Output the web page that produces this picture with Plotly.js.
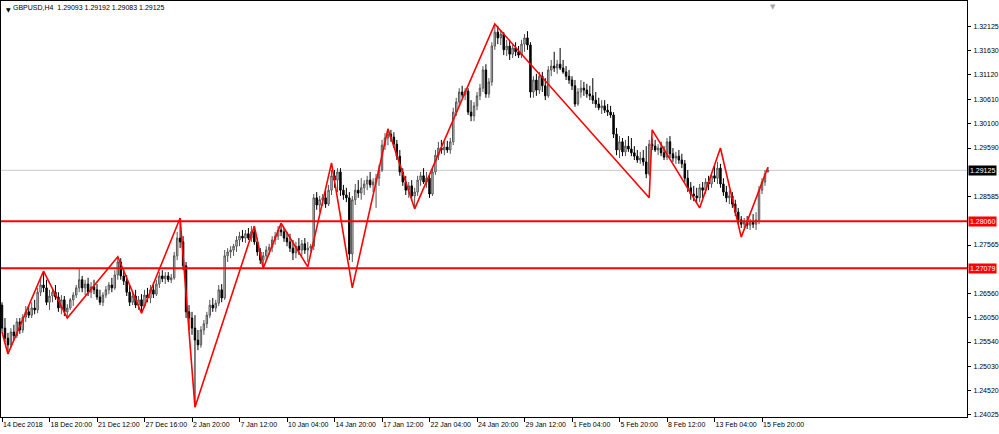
<!DOCTYPE html>
<html><head><meta charset="utf-8">
<script src="https://cdn.plot.ly/plotly-3.0.1.min.js"></script>
<style>html,body{margin:0;padding:0;background:#fff;overflow:hidden}#chart{width:999px;height:434px}</style>
</head><body><div id="chart"></div>
<script>
// GBPUSD H4 candles, 14 Dec 2018 04:00 .. 18 Feb 2019 04:00
const openP = [
1.2631,1.2583,1.2562,1.2548,1.2575,1.2567,1.2596,1.2579,1.2606,1.2617,
1.2610,1.2625,1.2621,1.2658,1.2673,1.2667,1.2637,1.2650,1.2658,1.2648,
1.2625,1.2642,1.2617,1.2625,1.2642,1.2652,1.2667,1.2684,1.2667,1.2675,
1.2658,1.2669,1.2663,1.2648,1.2637,1.2652,1.2663,1.2673,1.2667,1.2694,
1.2721,1.2692,1.2681,1.2658,1.2637,1.2650,1.2631,1.2642,1.2629,1.2652,
1.2646,1.2663,1.2654,1.2675,1.2692,1.2686,1.2692,1.2684,1.2688,1.2734,
1.2771,1.2763,1.2713,1.2617,1.2604,1.2583,1.2558,1.2548,1.2579,1.2592,
1.2610,1.2631,1.2625,1.2635,1.2663,1.2646,1.2734,1.2742,1.2746,1.2754,
1.2767,1.2775,1.2771,1.2780,1.2771,1.2784,1.2763,1.2742,1.2725,1.2734,
1.2746,1.2752,1.2767,1.2775,1.2788,1.2784,1.2771,1.2763,1.2750,1.2740,
1.2754,1.2746,1.2759,1.2746,1.2750,1.2754,1.2855,1.2840,1.2851,1.2855,
1.2842,1.2871,1.2901,1.2892,1.2909,1.2871,1.2861,1.2855,1.2738,1.2851,
1.2871,1.2865,1.2876,1.2884,1.2892,1.2882,1.2888,1.2896,1.2913,1.2965,
1.2980,1.2988,1.2982,1.2967,1.2942,1.2909,1.2888,1.2871,1.2880,1.2859,
1.2867,1.2892,1.2901,1.2888,1.2896,1.2863,1.2909,1.2944,1.2959,1.2955,
1.2961,1.2955,1.2972,1.3034,1.3055,1.3076,1.3070,1.3078,1.3034,1.3026,
1.3047,1.3068,1.3084,1.3122,1.3072,1.3097,1.3172,1.3201,1.3189,1.3197,
1.3164,1.3172,1.3155,1.3168,1.3160,1.3153,1.3176,1.3189,1.3174,1.3076,
1.3101,1.3080,1.3109,1.3089,1.3068,1.3122,1.3130,1.3126,1.3134,1.3126,
1.3118,1.3109,1.3101,1.3089,1.3051,1.3076,1.3084,1.3080,1.3072,1.3068,
1.3059,1.3051,1.3043,1.3047,1.3038,1.3034,1.3028,1.2988,1.2955,1.2972,
1.2951,1.2963,1.2957,1.2949,1.2942,1.2934,1.2938,1.2930,1.2905,1.2967,
1.2963,1.2955,1.2959,1.2949,1.2940,1.2972,1.2947,1.2938,1.2942,1.2934,
1.2926,1.2896,1.2876,1.2863,1.2859,1.2855,1.2876,1.2871,1.2888,1.2884,
1.2901,1.2896,1.2917,1.2884,1.2867,1.2855,1.2859,1.2842,1.2825,1.2809,
1.2800,1.2804,1.2798,1.2804,1.2800,1.2809,1.2871,1.2888,1.29093];
const highP = [
1.2637,1.2604,1.2573,1.2583,1.2590,1.2604,1.2604,1.2612,1.2629,1.2631,
1.2637,1.2642,1.2667,1.2688,1.2702,1.2684,1.2663,1.2667,1.2673,1.2658,
1.2652,1.2650,1.2633,1.2646,1.2658,1.2673,1.2708,1.2692,1.2684,1.2688,
1.2679,1.2684,1.2675,1.2663,1.2658,1.2671,1.2679,1.2688,1.2704,1.2732,
1.2729,1.2708,1.2694,1.2673,1.2658,1.2663,1.2650,1.2654,1.2663,1.2667,
1.2673,1.2679,1.2684,1.2700,1.2704,1.2700,1.2700,1.2696,1.2742,1.2784,
1.2813,1.2775,1.2721,1.2631,1.2617,1.2610,1.2579,1.2587,1.2600,1.2617,
1.2642,1.2646,1.2642,1.2673,1.2675,1.2746,1.2750,1.2754,1.2759,1.2775,
1.2784,1.2788,1.2788,1.2792,1.2796,1.2796,1.2771,1.2750,1.2742,1.2754,
1.2759,1.2775,1.2784,1.2796,1.2802,1.2792,1.2784,1.2780,1.2767,1.2763,
1.2771,1.2767,1.2771,1.2763,1.2759,1.2863,1.2867,1.2859,1.2863,1.2871,
1.2882,1.2913,1.2913,1.2917,1.2917,1.2882,1.2876,1.2867,1.2859,1.2884,
1.2892,1.2896,1.2892,1.2901,1.2909,1.2896,1.2905,1.2924,1.2976,1.2990,
1.2999,1.2997,1.2992,1.2976,1.2955,1.2917,1.2901,1.2888,1.2892,1.2876,
1.2901,1.2909,1.2917,1.2909,1.2905,1.2917,1.2955,1.2972,1.2976,1.2972,
1.2974,1.2980,1.3043,1.3064,1.3084,1.3089,1.3084,1.3084,1.3059,1.3055,
1.3076,1.3093,1.3130,1.3134,1.3105,1.3180,1.3218,1.3214,1.3206,1.3201,
1.3185,1.3185,1.3176,1.3180,1.3172,1.3185,1.3197,1.3203,1.3180,1.3109,
1.3114,1.3118,1.3118,1.3105,1.3130,1.3143,1.3160,1.3143,1.3168,1.3143,
1.3130,1.3122,1.3109,1.3101,1.3084,1.3101,1.3097,1.3093,1.3089,1.3105,
1.3076,1.3064,1.3059,1.3059,1.3051,1.3047,1.3034,1.3001,1.2984,1.2980,
1.2976,1.2984,1.2980,1.2963,1.2955,1.2951,1.2955,1.2963,1.2976,1.2980,
1.2976,1.2967,1.2972,1.2963,1.2980,1.2984,1.2959,1.2951,1.2955,1.2947,
1.2934,1.2913,1.2888,1.2880,1.2876,1.2884,1.2888,1.2896,1.2901,1.2909,
1.2922,1.2930,1.2926,1.2896,1.2880,1.2871,1.2867,1.2851,1.2834,1.2817,
1.2813,1.2817,1.2811,1.2821,1.2825,1.2880,1.2896,1.2913,1.29192];
const lowP = [
1.2575,1.2554,1.2529,1.2542,1.2558,1.2562,1.2571,1.2573,1.2596,1.2604,
1.2604,1.2612,1.2614,1.2650,1.2658,1.2631,1.2621,1.2637,1.2642,1.2617,
1.2612,1.2608,1.2604,1.2621,1.2629,1.2646,1.2658,1.2658,1.2652,1.2650,
1.2646,1.2654,1.2642,1.2631,1.2629,1.2646,1.2654,1.2658,1.2663,1.2684,
1.2684,1.2673,1.2650,1.2629,1.2631,1.2625,1.2621,1.2614,1.2625,1.2637,
1.2635,1.2646,1.2650,1.2667,1.2679,1.2675,1.2679,1.2677,1.2684,1.2725,
1.2750,1.2704,1.2604,1.2579,1.2569,1.2418,1.2537,1.2542,1.2569,1.2583,
1.2604,1.2617,1.2617,1.2629,1.2637,1.2642,1.2721,1.2729,1.2734,1.2742,
1.2754,1.2763,1.2761,1.2767,1.2763,1.2757,1.2734,1.2717,1.2708,1.2725,
1.2736,1.2742,1.2757,1.2767,1.2775,1.2763,1.2754,1.2742,1.2725,1.2729,
1.2736,1.2734,1.2738,1.2721,1.2742,1.2746,1.2830,1.2825,1.2838,1.2834,
1.2838,1.2861,1.2876,1.2867,1.2859,1.2851,1.2846,1.2725,1.2721,1.2840,
1.2855,1.2851,1.2861,1.2871,1.2876,1.2867,1.2834,1.2880,1.2909,1.2955,
1.2965,1.2972,1.2959,1.2934,1.2901,1.2880,1.2861,1.2855,1.2851,1.2832,
1.2859,1.2880,1.2884,1.2876,1.2855,1.2859,1.2903,1.2934,1.2947,1.2944,
1.2949,1.2947,1.2965,1.3026,1.3047,1.3064,1.3059,1.3028,1.3015,1.3015,
1.3038,1.3059,1.3076,1.3064,1.3064,1.3089,1.3164,1.3176,1.3174,1.3153,
1.3151,1.3143,1.3147,1.3151,1.3147,1.3147,1.3160,1.3164,1.3064,1.3064,
1.3068,1.3072,1.3076,1.3059,1.3064,1.3109,1.3118,1.3114,1.3122,1.3114,
1.3101,1.3093,1.3080,1.3045,1.3047,1.3064,1.3068,1.3064,1.3059,1.3051,
1.3043,1.3038,1.3030,1.3032,1.3026,1.3022,1.2980,1.2944,1.2938,1.2942,
1.2942,1.2951,1.2942,1.2934,1.2928,1.2926,1.2922,1.2896,1.2901,1.2955,
1.2951,1.2944,1.2942,1.2934,1.2934,1.2938,1.2930,1.2926,1.2926,1.2917,
1.2888,1.2867,1.2851,1.2848,1.2844,1.2846,1.2855,1.2863,1.2871,1.2876,
1.2888,1.2884,1.2876,1.2859,1.2846,1.2842,1.2834,1.2817,1.2800,1.2792,
1.2792,1.2790,1.2788,1.2792,1.2788,1.2800,1.2863,1.2880,1.29083];
const closeP = [
1.2583,1.2562,1.2548,1.2575,1.2567,1.2596,1.2579,1.2606,1.2617,1.2610,
1.2625,1.2621,1.2658,1.2673,1.2667,1.2637,1.2650,1.2658,1.2648,1.2625,
1.2642,1.2617,1.2625,1.2642,1.2652,1.2667,1.2684,1.2667,1.2675,1.2658,
1.2669,1.2663,1.2648,1.2637,1.2652,1.2663,1.2673,1.2667,1.2694,1.2721,
1.2692,1.2681,1.2658,1.2637,1.2650,1.2631,1.2642,1.2629,1.2652,1.2646,
1.2663,1.2654,1.2675,1.2692,1.2686,1.2692,1.2684,1.2688,1.2734,1.2771,
1.2763,1.2713,1.2617,1.2604,1.2583,1.2558,1.2548,1.2579,1.2592,1.2610,
1.2631,1.2625,1.2635,1.2663,1.2646,1.2734,1.2742,1.2746,1.2754,1.2767,
1.2775,1.2771,1.2780,1.2771,1.2784,1.2763,1.2742,1.2725,1.2734,1.2746,
1.2752,1.2767,1.2775,1.2788,1.2784,1.2771,1.2763,1.2750,1.2740,1.2754,
1.2746,1.2759,1.2746,1.2750,1.2754,1.2855,1.2840,1.2851,1.2855,1.2842,
1.2871,1.2901,1.2892,1.2909,1.2871,1.2861,1.2855,1.2738,1.2851,1.2871,
1.2865,1.2876,1.2884,1.2892,1.2882,1.2888,1.2896,1.2913,1.2965,1.2980,
1.2988,1.2982,1.2967,1.2942,1.2909,1.2888,1.2871,1.2880,1.2859,1.2867,
1.2892,1.2901,1.2888,1.2896,1.2863,1.2909,1.2944,1.2959,1.2955,1.2961,
1.2955,1.2972,1.3034,1.3055,1.3076,1.3070,1.3078,1.3034,1.3026,1.3047,
1.3068,1.3084,1.3122,1.3072,1.3097,1.3172,1.3201,1.3189,1.3197,1.3164,
1.3172,1.3155,1.3168,1.3160,1.3153,1.3176,1.3189,1.3174,1.3076,1.3101,
1.3080,1.3109,1.3089,1.3068,1.3122,1.3130,1.3126,1.3134,1.3126,1.3118,
1.3109,1.3101,1.3089,1.3051,1.3076,1.3084,1.3080,1.3072,1.3068,1.3059,
1.3051,1.3043,1.3047,1.3038,1.3034,1.3028,1.2988,1.2955,1.2972,1.2951,
1.2963,1.2957,1.2949,1.2942,1.2934,1.2938,1.2930,1.2905,1.2967,1.2963,
1.2955,1.2959,1.2949,1.2940,1.2972,1.2947,1.2938,1.2942,1.2934,1.2926,
1.2896,1.2876,1.2863,1.2859,1.2855,1.2876,1.2871,1.2888,1.2884,1.2901,
1.2896,1.2917,1.2884,1.2867,1.2855,1.2859,1.2842,1.2825,1.2809,1.2800,
1.2804,1.2798,1.2804,1.2800,1.2809,1.2871,1.2888,1.2905,1.29125];

// ZigZag indicator vertices: bar number and price
const zigzagBar   = [0, 2, 14, 22, 39, 47, 60, 65, 85, 88, 94, 103, 111, 118, 130, 139, 166, 218, 219, 235, 242, 249, 258];
const zigzagPrice = [1.2575, 1.2529, 1.2702, 1.2604, 1.2732, 1.2614, 1.2813, 1.2418, 1.2796, 1.2708, 1.2802, 1.2711,
                     1.2928, 1.2667, 1.2999, 1.2832, 1.3218, 1.2855, 1.2997, 1.2834, 1.2959, 1.2773, 1.2919];

// horizontal levels
const levelLines = [1.28060, 1.27079];
const bidPrice = 1.29125;

// axis labels
const xTickLabels = ['14 Dec 2018','18 Dec 20:00','21 Dec 12:00','27 Dec 16:00','2 Jan 20:00','7 Jan 12:00',
  '10 Jan 04:00','14 Jan 20:00','17 Jan 12:00','22 Jan 04:00','24 Jan 20:00','29 Jan 12:00','1 Feb 04:00',
  '5 Feb 20:00','8 Feb 12:00','13 Feb 04:00','15 Feb 20:00'];
const barsPerLabel = 16;
const yTickValues = [1.32125,1.31630,1.31120,1.30610,1.30100,1.29590,1.28585,1.27565,1.26560,1.26050,1.25540,1.25030,1.24520,1.24025];
const titleText = 'GBPUSD,H4\u00a0\u00a01.29093 1.29192 1.29083 1.29125';

const FONT = '"Liberation Sans", Arial, sans-serif';
const FS = 7;
const barIdx = openP.map((_, i) => i);

const candles = {
  type: 'candlestick', x: barIdx, open: openP, high: highP, low: lowP, close: closeP,
  increasing: {line: {color: '#555555', width: 1}, fillcolor: '#d8d8d8'},
  decreasing: {line: {color: '#000000', width: 1}, fillcolor: '#000000'},
  whiskerwidth: 0, hoverinfo: 'skip', showlegend: false
};
const zigzag = {
  type: 'scatter', mode: 'lines', x: zigzagBar, y: zigzagPrice,
  line: {color: '#ff0000', width: 1.6}, hoverinfo: 'skip', showlegend: false
};

const shapes = [
  {type: 'line', xref: 'paper', x0: 0, x1: 1, yref: 'y', y0: bidPrice, y1: bidPrice, line: {color: '#c8c8c8', width: 1}, layer: 'below'}
].concat(levelLines.map(v => ({
  type: 'line', xref: 'paper', x0: 0, x1: 1, yref: 'y', y0: v, y1: v, line: {color: '#ff0000', width: 2}
})));

const annotations = levelLines.map(v => ({
  xref: 'paper', x: 1, xanchor: 'left', xshift: 1, yref: 'y', y: v, yanchor: 'middle',
  text: v.toFixed(5), showarrow: false, bgcolor: '#ff0000', borderpad: 1,
  font: {family: FONT, size: FS, color: '#ffffff'}
})).concat([{
  xref: 'paper', x: 1, xanchor: 'left', xshift: 1, yref: 'y', y: bidPrice, yanchor: 'middle',
  text: bidPrice.toFixed(5), showarrow: false, bgcolor: '#000000', borderpad: 1,
  font: {family: FONT, size: FS, color: '#ffffff'}
}, {
  xref: 'paper', x: 0, xanchor: 'left', xshift: 3, yref: 'paper', y: 1, yanchor: 'top', yshift: -3,
  text: '\u25BC', showarrow: false, font: {family: 'DejaVu Sans', size: 6, color: '#000000'}
}, {
  xref: 'paper', x: 0.7992, xanchor: 'center', yref: 'paper', y: 1, yanchor: 'top', yshift: 0,
  text: '\u25BC', showarrow: false, font: {family: 'DejaVu Sans', size: 7, color: '#a8a8a8'}
}]);

const layout = {
  width: 999, height: 434,
  margin: {l: 1, r: 32, t: 1, b: 17, pad: 0},
  paper_bgcolor: '#ffffff', plot_bgcolor: '#ffffff',
  showlegend: false,
  title: {text: titleText, xref: 'container', x: 13/999, xanchor: 'left', yref: 'container', y: 1 - 8/434, yanchor: 'middle',
          font: {family: FONT, size: FS, color: '#000000'}},
  xaxis: {
    range: [-0.337, 325.05], rangeslider: {visible: false}, fixedrange: true,
    showgrid: false, zeroline: false,
    showline: true, linecolor: '#000000', linewidth: 1, mirror: true,
    tickmode: 'array', tickvals: xTickLabels.map((_, k) => k * barsPerLabel), ticktext: xTickLabels,
    tickangle: 0, automargin: false,
    ticks: 'outside', ticklen: 4, tickwidth: 1, tickcolor: '#000000',
    ticklabelposition: 'outside right', ticklabelstandoff: 1,
    tickfont: {family: FONT, size: FS, color: '#000000'}
  },
  yaxis: {
    side: 'right', range: [1.23974, 1.32660], fixedrange: true, automargin: false,
    showgrid: false, zeroline: false,
    showline: true, linecolor: '#000000', linewidth: 1, mirror: true,
    tickmode: 'array', tickvals: yTickValues, ticktext: yTickValues.map(v => v.toFixed(5)),
    ticks: 'outside', ticklen: 3, tickwidth: 1, tickcolor: '#000000', ticklabelstandoff: 1,
    tickfont: {family: FONT, size: FS, color: '#000000'}
  },
  shapes: shapes,
  annotations: annotations
};

Plotly.newPlot('chart', [candles, zigzag], layout, {staticPlot: true, displayModeBar: false});
</script>
</body></html>
